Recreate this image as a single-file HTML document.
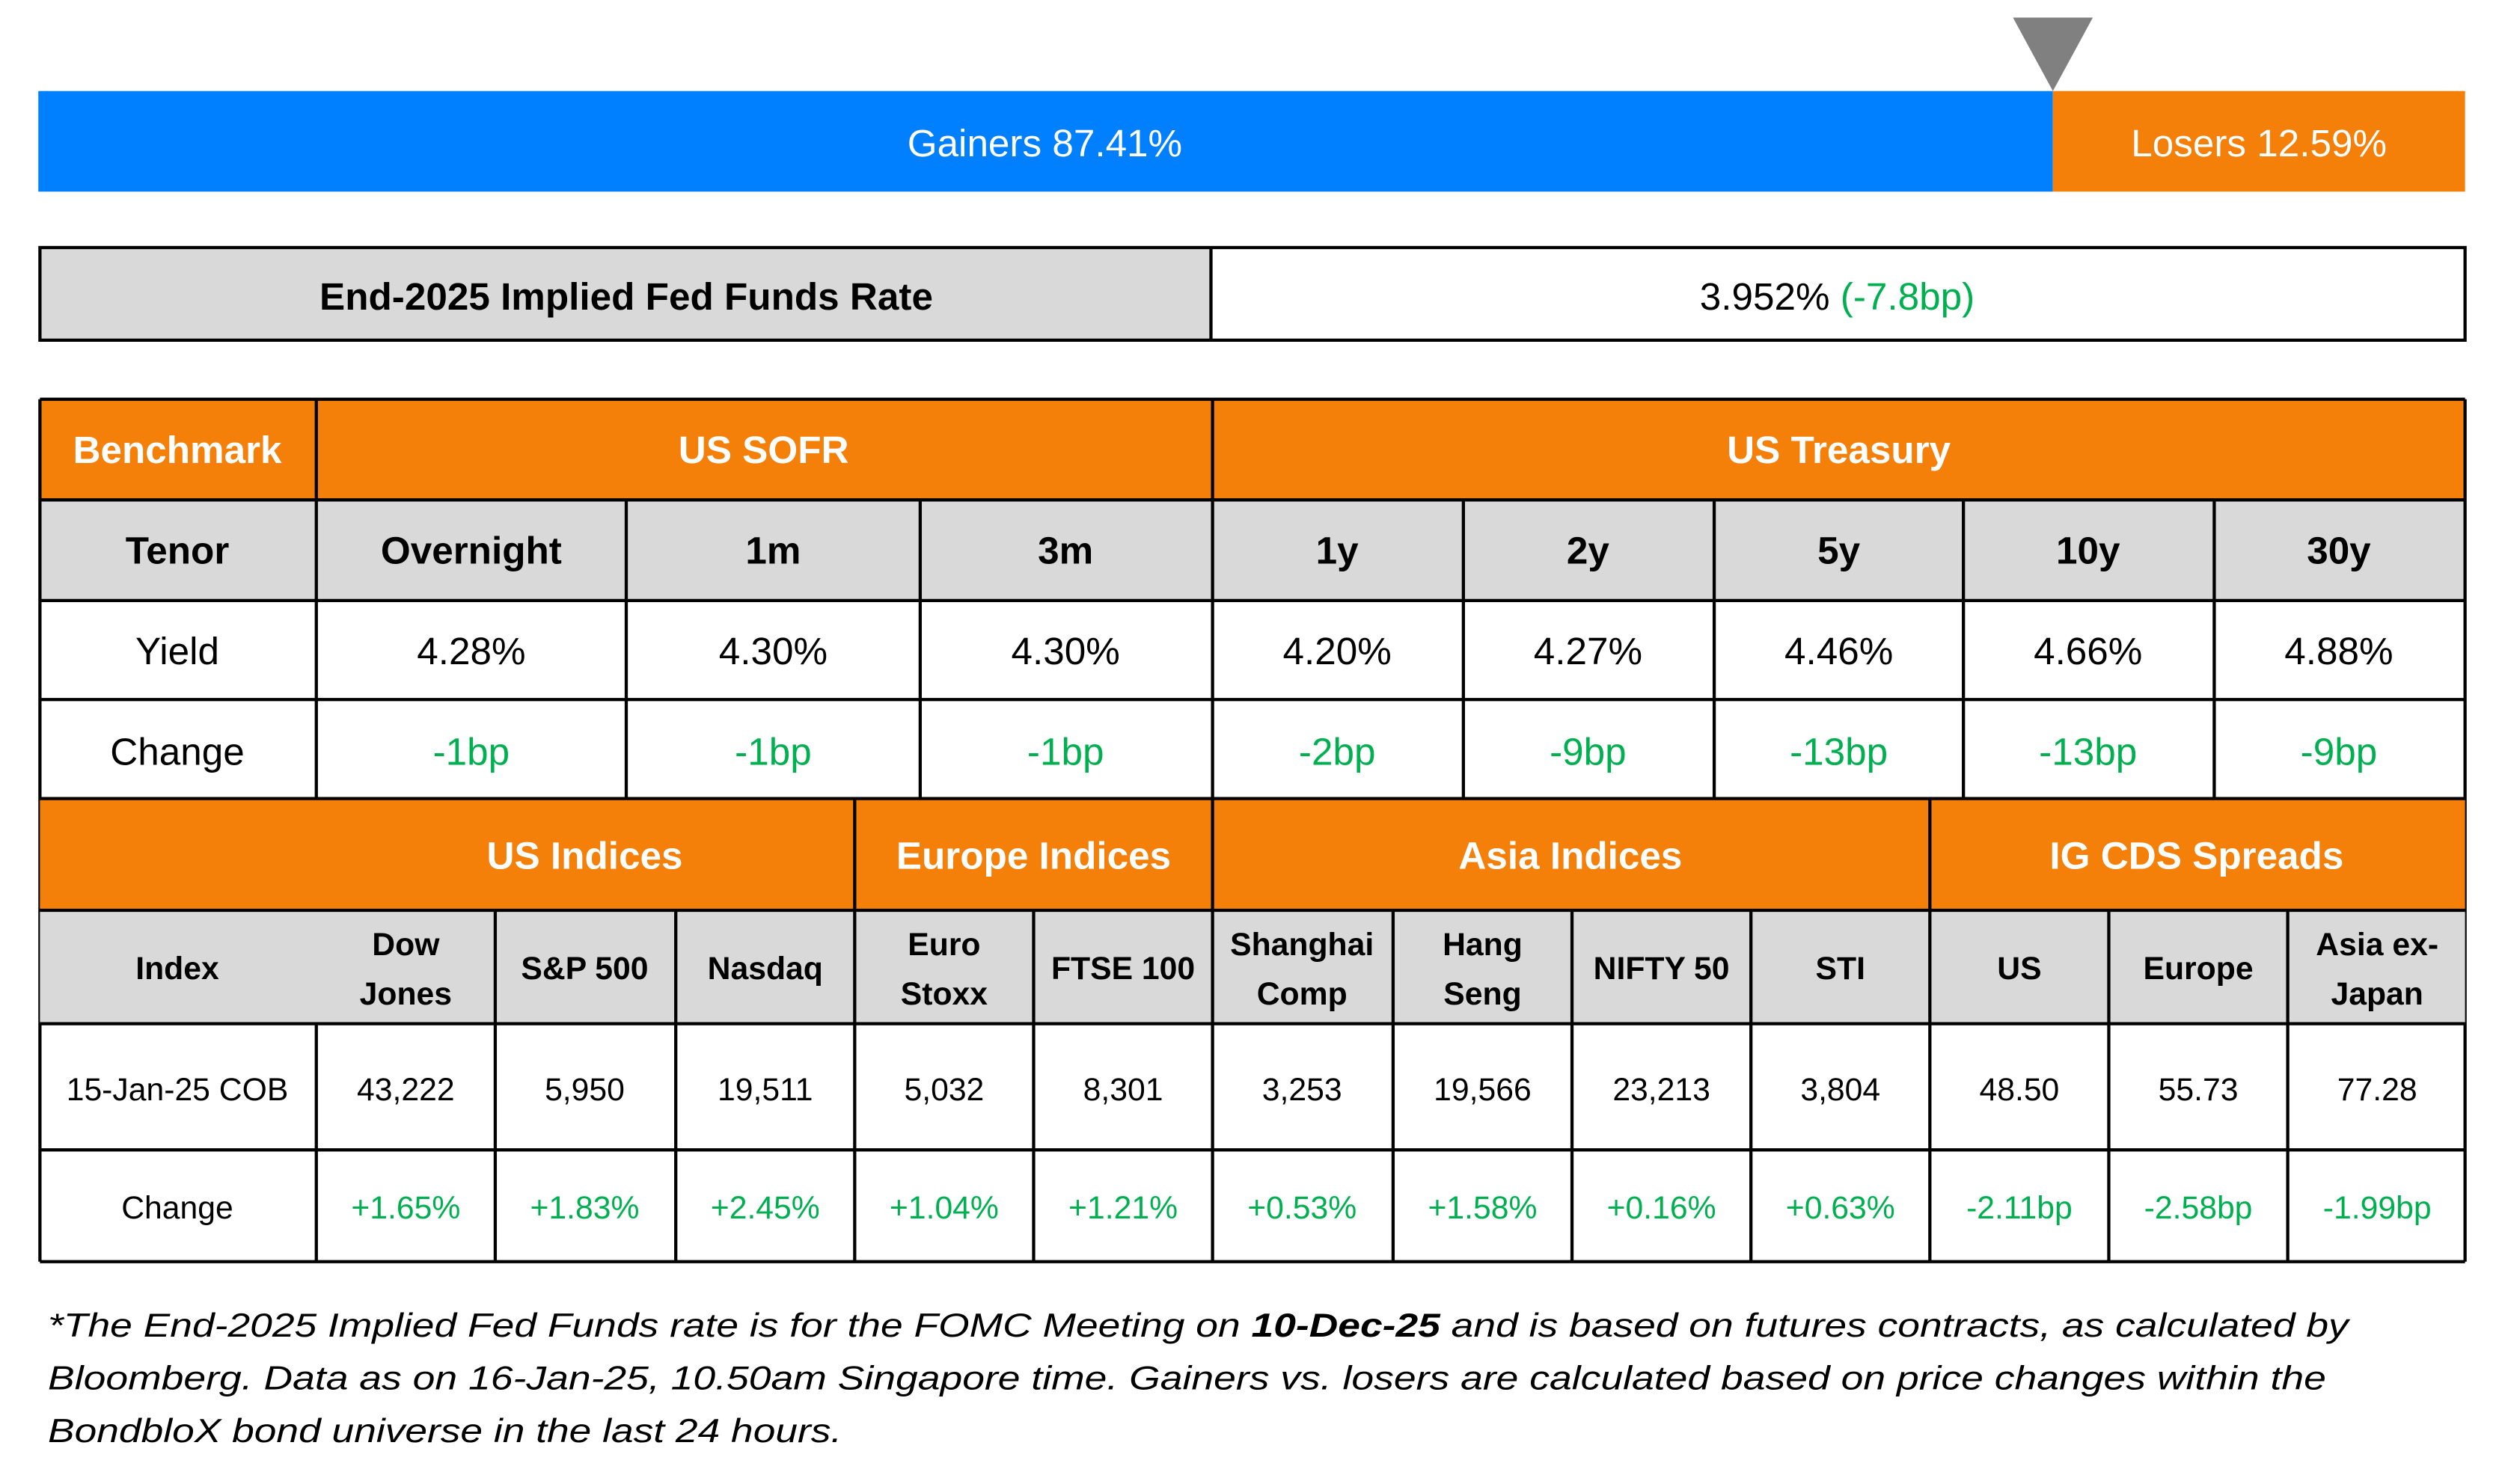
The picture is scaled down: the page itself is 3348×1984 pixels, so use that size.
<!DOCTYPE html>
<html><head><style>
html,body{margin:0;padding:0;background:#fff;}
svg{display:block;}
text{font-family:"Liberation Sans",sans-serif;}
</style></head><body>
<svg width="3348" height="1984" viewBox="0 0 1568 929.2" preserveAspectRatio="none" xmlns="http://www.w3.org/2000/svg">
<rect width="1568" height="930" fill="#fff"/>
<!-- gainers/losers bar -->
<rect x="24" y="57" width="1261" height="63" fill="#0080ff"/>
<rect x="1285" y="57" width="258" height="63" fill="#f58009"/>
<polygon points="1260,11 1310,11 1285,57" fill="#808080"/>
<text x="654" y="98" fill="#fff" font-size="24" text-anchor="middle">Gainers 87.41%</text>
<text x="1414" y="98" fill="#fff" font-size="24" text-anchor="middle">Losers 12.59%</text>
<!-- fed funds -->
<rect x="25" y="155" width="733" height="58" fill="#d9d9d9"/>
<rect x="25" y="155" width="1518" height="58" fill="none" stroke="#000" stroke-width="2"/>
<line x1="758" y1="155" x2="758" y2="213" stroke="#000" stroke-width="2"/>
<text x="392" y="194" font-size="24" font-weight="bold" text-anchor="middle">End-2025 Implied Fed Funds Rate</text>
<text x="1150" y="194" font-size="24" text-anchor="middle">3.952% <tspan fill="#00b050">(-7.8bp)</tspan></text>
<!-- table 1 -->
<rect x="25" y="250" width="1518" height="63" fill="#f58009"/>
<rect x="25" y="313" width="1518" height="63" fill="#d9d9d9"/>
<g stroke="#000" stroke-width="2" fill="none">
<line x1="25" y1="250" x2="1543" y2="250"/>
<line x1="25" y1="313" x2="1543" y2="313"/>
<line x1="25" y1="376" x2="1543" y2="376"/>
<line x1="25" y1="438" x2="1543" y2="438"/>
<line x1="25" y1="500" x2="1543" y2="500"/>
<line x1="25" y1="250" x2="25" y2="790"/>
<line x1="1543" y1="250" x2="1543" y2="790"/>
<line x1="198" y1="250" x2="198" y2="790"/>
<line x1="759" y1="250" x2="759" y2="500"/>
<line x1="392" y1="313" x2="392" y2="500"/>
<line x1="576" y1="313" x2="576" y2="500"/>
<line x1="916" y1="313" x2="916" y2="500"/>
<line x1="1073" y1="313" x2="1073" y2="500"/>
<line x1="1229" y1="313" x2="1229" y2="500"/>
<line x1="1386" y1="313" x2="1386" y2="500"/>
</g>
<g font-size="24" font-weight="bold" fill="#fff" text-anchor="middle">
<text x="111" y="290">Benchmark</text><text x="478" y="290">US SOFR</text><text x="1151" y="290">US Treasury</text>
</g>
<g font-size="24" font-weight="bold" text-anchor="middle">
<text x="111" y="353">Tenor</text><text x="295" y="353">Overnight</text><text x="484" y="353">1m</text><text x="667" y="353">3m</text>
<text x="837" y="353">1y</text><text x="994" y="353">2y</text><text x="1151" y="353">5y</text><text x="1307" y="353">10y</text><text x="1464" y="353">30y</text>
</g>
<g font-size="24" text-anchor="middle">
<text x="111" y="416">Yield</text><text x="295" y="416">4.28%</text><text x="484" y="416">4.30%</text><text x="667" y="416">4.30%</text>
<text x="837" y="416">4.20%</text><text x="994" y="416">4.27%</text><text x="1151" y="416">4.46%</text><text x="1307" y="416">4.66%</text><text x="1464" y="416">4.88%</text>
<text x="111" y="479">Change</text>
</g>
<g font-size="24" text-anchor="middle" fill="#00b050">
<text x="295" y="479">-1bp</text><text x="484" y="479">-1bp</text><text x="667" y="479">-1bp</text>
<text x="837" y="479">-2bp</text><text x="994" y="479">-9bp</text><text x="1151" y="479">-13bp</text><text x="1307" y="479">-13bp</text><text x="1464" y="479">-9bp</text>
</g>
<!-- table 2 -->
<rect x="25" y="500" width="1518" height="70" fill="#f58009"/>
<rect x="25" y="570" width="1518" height="71" fill="#d9d9d9"/>
<g stroke="#000" stroke-width="2" fill="none">
<line x1="25" y1="500" x2="1543" y2="500"/>
<line x1="25" y1="570" x2="1543" y2="570"/>
<line x1="25" y1="641" x2="1543" y2="641"/>
<line x1="25" y1="720" x2="1543" y2="720"/>
<line x1="25" y1="790" x2="1543" y2="790"/>
<line x1="535" y1="500" x2="535" y2="790"/>
<line x1="759" y1="500" x2="759" y2="790"/>
<line x1="1208" y1="500" x2="1208" y2="790"/>
<line x1="310" y1="570" x2="310" y2="790"/>
<line x1="423" y1="570" x2="423" y2="790"/>
<line x1="647" y1="570" x2="647" y2="790"/>
<line x1="872" y1="570" x2="872" y2="790"/>
<line x1="984" y1="570" x2="984" y2="790"/>
<line x1="1096" y1="570" x2="1096" y2="790"/>
<line x1="1320" y1="570" x2="1320" y2="790"/>
<line x1="1432" y1="570" x2="1432" y2="790"/>
</g>
<g font-size="24" font-weight="bold" fill="#fff" text-anchor="middle">
<text x="366" y="544">US Indices</text><text x="647" y="544">Europe Indices</text><text x="983" y="544">Asia Indices</text><text x="1375" y="544">IG CDS Spreads</text>
</g>
<g font-size="20" font-weight="bold" text-anchor="middle">
<text x="111" y="613">Index</text>
<text x="254" y="598">Dow</text><text x="254" y="629">Jones</text>
<text x="366" y="613">S&amp;P 500</text>
<text x="479" y="613">Nasdaq</text>
<text x="591" y="598">Euro</text><text x="591" y="629">Stoxx</text>
<text x="703" y="613">FTSE 100</text>
<text x="815" y="598">Shanghai</text><text x="815" y="629">Comp</text>
<text x="928" y="598">Hang</text><text x="928" y="629">Seng</text>
<text x="1040" y="613">NIFTY 50</text>
<text x="1152" y="613">STI</text>
<text x="1264" y="613">US</text>
<text x="1376" y="613">Europe</text>
<text x="1488" y="598">Asia ex-</text><text x="1488" y="629">Japan</text>
</g>
<g font-size="20" text-anchor="middle">
<text x="111" y="689">15-Jan-25 COB</text>
<text x="254" y="689">43,222</text><text x="366" y="689">5,950</text><text x="479" y="689">19,511</text>
<text x="591" y="689">5,032</text><text x="703" y="689">8,301</text>
<text x="815" y="689">3,253</text><text x="928" y="689">19,566</text><text x="1040" y="689">23,213</text><text x="1152" y="689">3,804</text>
<text x="1264" y="689">48.50</text><text x="1376" y="689">55.73</text><text x="1488" y="689">77.28</text>
<text x="111" y="763">Change</text>
</g>
<g font-size="20" text-anchor="middle" fill="#00b050">
<text x="254" y="763">+1.65%</text><text x="366" y="763">+1.83%</text><text x="479" y="763">+2.45%</text>
<text x="591" y="763">+1.04%</text><text x="703" y="763">+1.21%</text>
<text x="815" y="763">+0.53%</text><text x="928" y="763">+1.58%</text><text x="1040" y="763">+0.16%</text><text x="1152" y="763">+0.63%</text>
<text x="1264" y="763">-2.11bp</text><text x="1376" y="763">-2.58bp</text><text x="1488" y="763">-1.99bp</text>
</g>
<!-- footnote -->
<g font-size="21" font-style="italic">
<text x="30" y="837" textLength="1440" lengthAdjust="spacingAndGlyphs">*The End-2025 Implied Fed Funds rate is for the FOMC Meeting on <tspan font-weight="bold">10-Dec-25</tspan> and is based on futures contracts, as calculated by</text>
<text x="30" y="870" textLength="1426" lengthAdjust="spacingAndGlyphs">Bloomberg. Data as on 16-Jan-25, 10.50am Singapore time. Gainers vs. losers are calculated based on price changes within the</text>
<text x="30" y="903" textLength="497" lengthAdjust="spacingAndGlyphs">BondbloX bond universe in the last 24 hours.</text>
</g>
</svg>
</body></html>
